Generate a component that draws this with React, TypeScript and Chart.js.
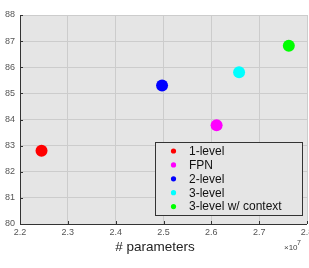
import React, { useEffect, useRef } from "react";
import { Chart, registerables } from "chart.js";

Chart.register(...registerables);

const seriesNames = ["1-level", "FPN", "2-level", "3-level", "3-level w/ context"];
const seriesColors = ["#ff0000", "#ff00ff", "#0000ff", "#00ffff", "#00ff00"];
const paramCounts = [22450000, 26110000, 24970000, 26580000, 27620000];
const apValues = [82.8, 83.78, 85.3, 85.81, 86.82];
const xTickMin = 2.2e7;
const xTickMax = 2.8e7;
const yTickMin = 80;
const yTickMax = 88;

const PLOT_LEFT = 20;
const PLOT_TOP = 15;
const PLOT_BOTTOM = 224;
const PLOT_RIGHT = 307;
const W = 309;
const H = 268;
const FONT = "'Liberation Sans', Arial, sans-serif";

const decorPlugin = {
  id: "decor",
  beforeDraw(chart: any) {
    const { ctx, chartArea } = chart;
    ctx.save();
    ctx.fillStyle = "#e5e5e5";
    ctx.fillRect(chartArea.left, chartArea.top, chartArea.right - chartArea.left, chartArea.bottom - chartArea.top);
    ctx.restore();
  },
  afterDatasetsDraw(chart: any) {
    const { ctx, chartArea, scales } = chart;
    const xs = scales.x;
    const ys = scales.y;
    ctx.save();
    ctx.strokeStyle = "#333333";
    ctx.lineWidth = 1;
    ctx.beginPath();
    ctx.moveTo(chartArea.left + 0.5, chartArea.top);
    ctx.lineTo(chartArea.left + 0.5, chartArea.bottom + 0.5);
    ctx.lineTo(chartArea.right, chartArea.bottom + 0.5);
    ctx.stroke();
    ctx.beginPath();
    ys.ticks.forEach((t: any) => {
      const y = Math.round(ys.getPixelForValue(t.value)) + 0.5;
      ctx.moveTo(chartArea.left, y);
      ctx.lineTo(chartArea.left + 3, y);
    });
    xs.ticks.forEach((t: any) => {
      const x = Math.round(xs.getPixelForValue(t.value)) + 0.5;
      ctx.moveTo(x, chartArea.bottom);
      ctx.lineTo(x, chartArea.bottom - 3);
    });
    ctx.stroke();

    // x tick labels
    ctx.fillStyle = "#555555";
    ctx.font = `9px ${FONT}`;
    ctx.textAlign = "center";
    ctx.textBaseline = "middle";
    xs.ticks.forEach((t: any) => {
      const x = xs.getPixelForValue(t.value);
      ctx.fillText((t.value / 1e7).toFixed(1), x, chartArea.bottom + 9);
    });

    // legend
    const lx = 155, ly = 142, lw = 147, lh = 73;
    ctx.fillStyle = "#e5e5e5";
    ctx.fillRect(lx, ly, lw, lh);
    ctx.strokeStyle = "#333333";
    ctx.lineWidth = 1;
    ctx.strokeRect(lx + 0.5, ly + 0.5, lw, lh);
    ctx.font = `12px ${FONT}`;
    ctx.textBaseline = "middle";
    ctx.textAlign = "left";
    seriesNames.forEach((name, i) => {
      const cy = ly + 9 + i * 13.9;
      ctx.fillStyle = seriesColors[i];
      ctx.beginPath();
      ctx.arc(173.5, cy, 2.6, 0, Math.PI * 2);
      ctx.fill();
      ctx.fillStyle = "#111111";
      ctx.fillText(name, 189, cy + 0.5);
    });

    ctx.fillStyle = "#222222";
    ctx.font = `13.5px ${FONT}`;
    ctx.textAlign = "center";
    ctx.fillText("# parameters", 155, 247);

    ctx.fillStyle = "#444444";
    ctx.font = `8px ${FONT}`;
    ctx.textAlign = "left";
    ctx.fillText("\u00d710", 284, 248);
    ctx.font = `7px ${FONT}`;
    ctx.fillText("7", 297, 243);

    ctx.translate(-5, 117);
    ctx.rotate(-Math.PI / 2);
    ctx.fillStyle = "#999999";
    ctx.font = `11px ${FONT}`;
    ctx.textAlign = "center";
    ctx.fillText("AP", 0, 0);
    ctx.restore();
  },
};

export default function App() {
  const ref = useRef<HTMLCanvasElement | null>(null);
  useEffect(() => {
    if (!ref.current) return;
    const chart = new Chart(ref.current, {
      type: "scatter",
      data: {
        datasets: seriesNames.map((name, i) => ({
          label: name,
          data: [{ x: paramCounts[i], y: apValues[i] }],
          backgroundColor: seriesColors[i],
          borderColor: seriesColors[i],
          pointRadius: 6,
          pointBorderWidth: 0,
        })),
      },
      options: {
        responsive: false,
        animation: false,
        layout: { autoPadding: false, padding: { top: PLOT_TOP, right: W - PLOT_RIGHT, left: 0, bottom: 0 } },
        plugins: { legend: { display: false }, tooltip: { enabled: false } },
        scales: {
          x: {
            type: "linear",
            min: xTickMin,
            max: xTickMax,
            ticks: {
              stepSize: 1e6,
              display: false,
            },
            grid: { color: "#cccccc", drawTicks: false },
            border: { display: false },
            afterFit: (s: any) => {
              s.height = H - PLOT_BOTTOM;
            },
          },
          y: {
            min: yTickMin,
            max: yTickMax,
            ticks: {
              stepSize: 1,
              color: "#555555",
              font: { size: 9, family: FONT },
              padding: 5,
            },
            grid: { color: "#cccccc", drawTicks: false },
            border: { display: false },
            afterFit: (s: any) => {
              s.width = PLOT_LEFT;
            },
          },
        },
      } as any,
      plugins: [decorPlugin],
    });
    return () => chart.destroy();
  }, []);
  return (
    <div style={{ position: "fixed", left: 0, top: 0, width: W, height: H, background: "#ffffff" }}>
      <canvas ref={ref} width={W} height={H} style={{ display: "block" }} />
    </div>
  );
}
